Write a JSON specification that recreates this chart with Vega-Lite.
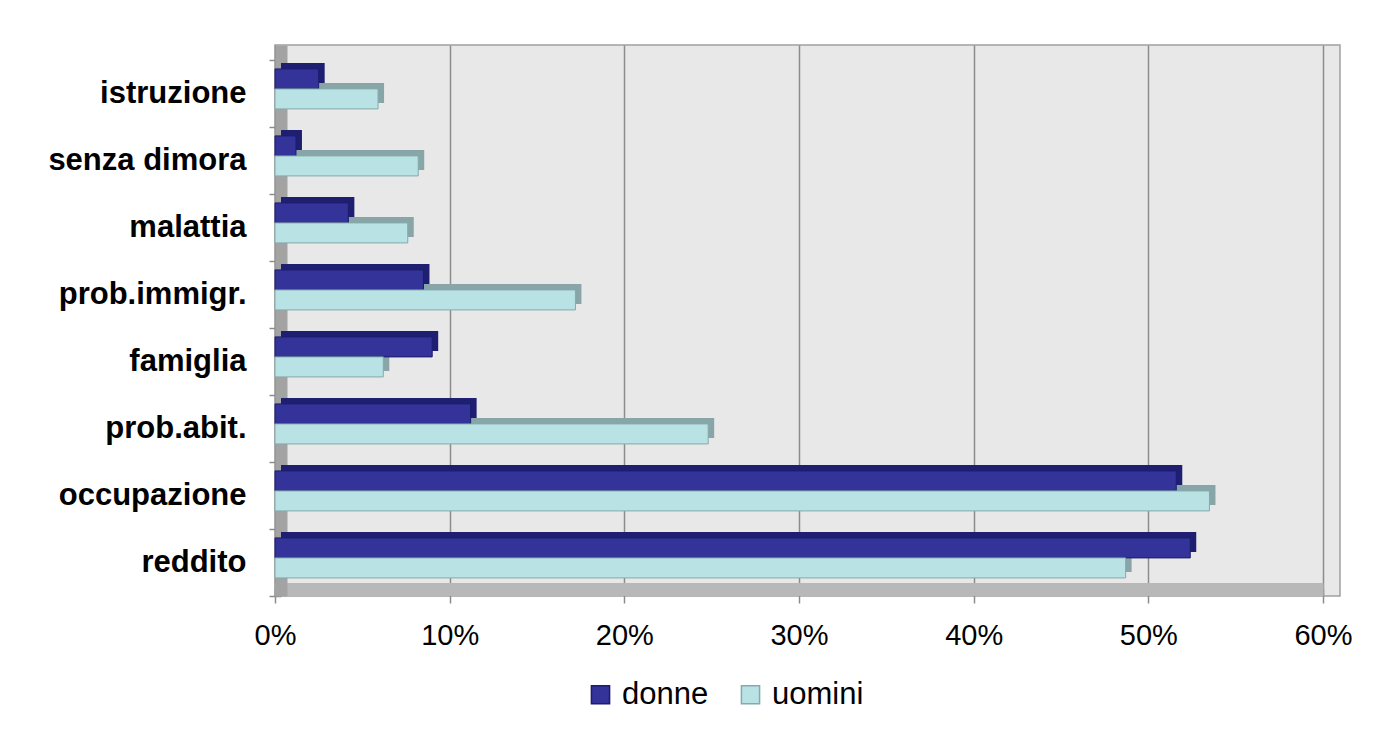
{
  "$schema": "https://vega.github.io/schema/vega-lite/v6.json",
  "autosize": "none",
  "width": 1065,
  "height": 551,
  "padding": {"left": 275, "top": 45, "right": 59, "bottom": 135},
  "background": "white",
  "data": {
    "values": [
      {"causa": "istruzione", "sesso": "donne", "quota": 0.025},
      {"causa": "istruzione", "sesso": "uomini", "quota": 0.059},
      {"causa": "senza dimora", "sesso": "donne", "quota": 0.012},
      {"causa": "senza dimora", "sesso": "uomini", "quota": 0.082},
      {"causa": "malattia", "sesso": "donne", "quota": 0.042},
      {"causa": "malattia", "sesso": "uomini", "quota": 0.076},
      {"causa": "prob.immigr.", "sesso": "donne", "quota": 0.085},
      {"causa": "prob.immigr.", "sesso": "uomini", "quota": 0.172},
      {"causa": "famiglia", "sesso": "donne", "quota": 0.090},
      {"causa": "famiglia", "sesso": "uomini", "quota": 0.062},
      {"causa": "prob.abit.", "sesso": "donne", "quota": 0.112},
      {"causa": "prob.abit.", "sesso": "uomini", "quota": 0.248},
      {"causa": "occupazione", "sesso": "donne", "quota": 0.516},
      {"causa": "occupazione", "sesso": "uomini", "quota": 0.535},
      {"causa": "reddito", "sesso": "donne", "quota": 0.524},
      {"causa": "reddito", "sesso": "uomini", "quota": 0.487}
    ]
  },
  "encoding": {
    "y": {
      "field": "causa",
      "type": "nominal",
      "sort": ["istruzione", "senza dimora", "malattia", "prob.immigr.", "famiglia", "prob.abit.", "occupazione", "reddito"],
      "scale": {"paddingInner": 0, "paddingOuter": 0.112, "align": 1},
      "axis": {
        "title": null,
        "labelFont": "Liberation Sans",
        "labelFontWeight": "bold",
        "labelFontSize": 31,
        "labelColor": "black",
        "labelLimit": 400,
        "labelPadding": 23,
        "offset": -6,
        "tickSize": 12,
        "tickColor": "#8c8c8c",
        "tickWidth": 1.5,
        "tickBand": "extent",
        "domainColor": "#a3a3a3",
        "domainWidth": 12
      }
    },
    "x": {
      "field": "quota",
      "type": "quantitative",
      "scale": {"domain": [0, 0.6], "nice": false, "range": [0, 1048]},
      "axis": {
        "title": null,
        "format": ".0%",
        "values": [0, 0.1, 0.2, 0.3, 0.4, 0.5, 0.6],
        "labelFont": "Liberation Sans",
        "labelFontSize": 29,
        "labelColor": "black",
        "labelFlush": false,
        "labelPadding": 18,
        "offset": -7,
        "tickSize": 14,
        "tickColor": "#8c8c8c",
        "tickWidth": 1.5,
        "domainColor": "#b8b8b8",
        "domainWidth": 13,
        "grid": true,
        "gridColor": "#8c8c8c",
        "gridWidth": 1.5
      }
    }
  },
  "layer": [
    {
      "mark": {"type": "bar", "xOffset": 6, "x2Offset": 6},
      "encoding": {
        "yOffset": {
          "field": "sesso",
          "type": "nominal",
          "sort": ["donne", "uomini"],
          "scale": {"paddingInner": 0, "paddingOuter": 0.675, "align": 0.11}
        },
        "fill": {
          "condition": {"test": "datum.sesso === 'donne'", "value": "#1f1f72"},
          "value": "#88a6a8"
        }
      }
    },
    {
      "mark": {"type": "bar", "strokeWidth": 1},
      "encoding": {
        "yOffset": {
          "field": "sesso",
          "type": "nominal",
          "sort": ["donne", "uomini"],
          "scale": {"paddingInner": 0, "paddingOuter": 0.675, "align": 0.33}
        },
        "color": {
          "field": "sesso",
          "type": "nominal",
          "scale": {"domain": ["donne", "uomini"], "range": ["#333399", "#b9e2e4"]},
          "legend": {
            "title": null,
            "orient": "none",
            "direction": "horizontal",
            "legendX": 310,
            "legendY": 634,
            "symbolType": "square",
            "symbolSize": 330,
            "symbolStrokeWidth": 1.5,
            "labelFont": "Liberation Sans",
            "labelFontSize": 31,
            "labelColor": "black",
            "labelOffset": 6,
            "columnPadding": 26
          }
        },
        "stroke": {
          "field": "sesso",
          "type": "nominal",
          "scale": {"domain": ["donne", "uomini"], "range": ["#1c1c70", "#86a9ab"]},
          "legend": null
        }
      }
    }
  ],
  "resolve": {"scale": {"yOffset": "independent"}},
  "config": {
    "view": {"fill": "#e8e8e8", "stroke": "#a0a0a0", "strokeWidth": 1.5}
  }
}
